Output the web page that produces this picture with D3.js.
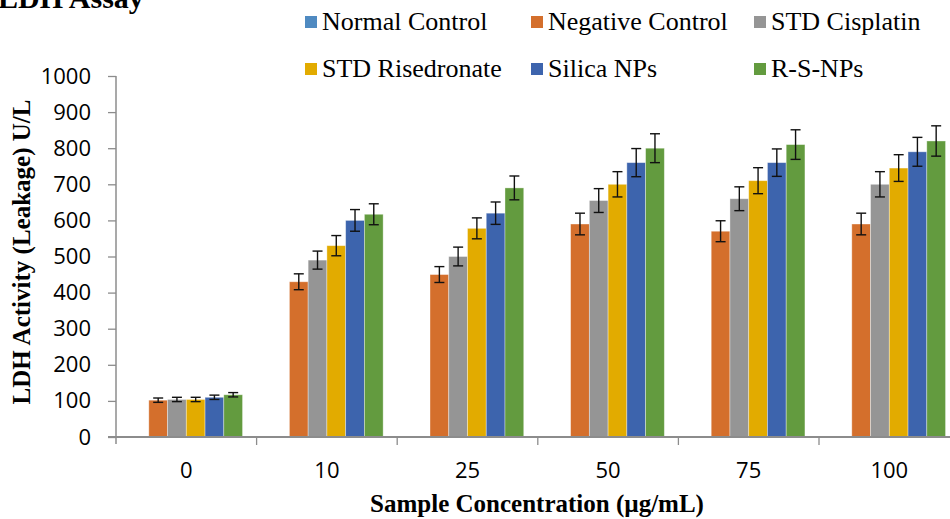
<!DOCTYPE html>
<html>
<head>
<meta charset="utf-8">
<script src="https://cdn.jsdelivr.net/npm/d3@7/dist/d3.min.js"></script>
<style>
  html, body { margin: 0; padding: 0; background: #fff; overflow: hidden; }
  svg { display: block; }
</style>
</head>
<body>
<svg id="chart" width="950" height="519"></svg>
<script>
// ---- data ----
const categories = ["0", "10", "25", "50", "75", "100"];
const seriesNames = ["Normal Control", "Negative Control", "STD Cisplatin", "STD Risedronate", "Silica NPs", "R-S-NPs"];
const normalControl   = [0, 0, 0, 0, 0, 0];
const negativeControl = [102, 430, 450, 590, 570, 590];
const stdCisplatin    = [104, 490, 500, 655, 660, 700];
const stdRisedronate  = [104, 530, 578, 700, 710, 745];
const silicaNPs       = [110, 600, 620, 760, 760, 790];
const rsNPs           = [117, 617, 690, 800, 810, 820];
const errNormal       = [0, 0, 0, 0, 0, 0];
const errNegative     = [6, 22, 22, 30, 29, 30];
const errCisplatin    = [6, 25, 26, 33, 33, 35];
const errRisedronate  = [6, 28, 29, 35, 36, 37];
const errSilica       = [6, 30, 31, 39, 38, 40];
const errRS           = [6, 29, 33, 40, 41, 42];
const yTicks = [0, 100, 200, 300, 400, 500, 600, 700, 800, 900, 1000];
const colors = ["#4F8AC1", "#D46F2C", "#959595", "#E2AB00", "#3D64AD", "#639B3F"];

const values = [normalControl, negativeControl, stdCisplatin, stdRisedronate, silicaNPs, rsNPs];
const errors = [errNormal, errNegative, errCisplatin, errRisedronate, errSilica, errRS];

// ---- layout ----
const svg = d3.select("#chart");
const x0 = d3.scaleBand().domain(categories).range([116, 959.6]).paddingInner(0).paddingOuter(0);
const x1 = d3.scaleBand().domain(seriesNames).range([0, x0.bandwidth()]).paddingInner(0).paddingOuter(0.75);
const y = d3.scaleLinear().domain([0, 1000]).range([437, 76]);
const color = d3.scaleOrdinal().domain(seriesNames).range(colors);

// title (cut off at top, as in the reference)
svg.append("text")
  .attr("x", -2).attr("y", 8)
  .attr("font-family", "Liberation Serif, 'Times New Roman', serif")
  .attr("font-weight", "bold").attr("font-size", 30)
  .attr("fill", "#000")
  .text("LDH Assay");

// bars
const data = [];
categories.forEach((c, ci) => {
  seriesNames.forEach((s, si) => {
    data.push({cat: c, ser: s, v: values[si][ci], e: errors[si][ci]});
  });
});

const gBars = svg.append("g");
gBars.selectAll("rect").data(data.filter(d => d.v > 0)).enter().append("rect")
  .attr("x", d => x0(d.cat) + x1(d.ser))
  .attr("y", d => y(d.v))
  .attr("width", x1.bandwidth())
  .attr("height", d => y(0) - y(d.v))
  .attr("fill", d => color(d.ser))
  .attr("stroke", "rgba(255,255,255,0.45)")
  .attr("stroke-width", 0.8);

// error bars
const gErr = svg.append("g").attr("stroke", "#111").attr("stroke-width", 1.4);
data.filter(d => d.v > 0).forEach(d => {
  const cx = x0(d.cat) + x1(d.ser) + x1.bandwidth() / 2;
  const yt = y(d.v + d.e), yb = y(d.v - d.e);
  gErr.append("line").attr("x1", cx).attr("x2", cx).attr("y1", yt).attr("y2", yb);
  gErr.append("line").attr("x1", cx - 5).attr("x2", cx + 5).attr("y1", yt).attr("y2", yt);
  gErr.append("line").attr("x1", cx - 5).attr("x2", cx + 5).attr("y1", yb).attr("y2", yb);
});

// y axis
const yAxis = d3.axisLeft(y).tickValues(yTicks).tickFormat(d3.format("d")).tickSize(8).tickPadding(17);
const gy = svg.append("g").attr("transform", "translate(116,0)").call(yAxis);
gy.select(".domain").attr("stroke", "#8c8c8c").attr("stroke-width", 1.5).attr("d", "M0,76V444");
gy.selectAll(".tick line").attr("stroke", "#8c8c8c").attr("stroke-width", 1.3);
gy.selectAll(".tick text")
  .attr("font-family", "'Open Sans', sans-serif").attr("font-size", 22).attr("fill", "#000");

// x axis
const gx = svg.append("g").attr("transform", "translate(0,437)");
gx.append("line").attr("x1", 108).attr("x2", 950).attr("y1", 0).attr("y2", 0)
  .attr("stroke", "#8c8c8c").attr("stroke-width", 2);
categories.slice(1).forEach(c => {
  gx.append("line").attr("x1", x0(c)).attr("x2", x0(c)).attr("y1", 0).attr("y2", 8)
    .attr("stroke", "#8c8c8c").attr("stroke-width", 1.3);
});
gx.selectAll("text.cat").data(categories).enter().append("text")
  .attr("class", "cat")
  .attr("x", d => x0(d) + x0.bandwidth() / 2)
  .attr("y", 41)
  .attr("text-anchor", "middle")
  .attr("font-family", "'Open Sans', sans-serif").attr("font-size", 22).attr("fill", "#000")
  .text(d => d);

// axis titles
svg.append("text")
  .attr("x", 537).attr("y", 512)
  .attr("text-anchor", "middle")
  .attr("font-family", "Liberation Serif, 'Times New Roman', serif")
  .attr("font-weight", "bold").attr("font-size", 25).attr("fill", "#000")
  .text("Sample Concentration (µg/mL)");

svg.append("text")
  .attr("transform", "translate(30,252) rotate(-90)")
  .attr("text-anchor", "middle")
  .attr("font-family", "Liberation Serif, 'Times New Roman', serif")
  .attr("font-weight", "bold").attr("font-size", 25).attr("fill", "#000")
  .text("LDH Activity (Leakage) U/L");

// legend
const legendX = [305, 531, 754];
const legendY = [30, 77];
const gLeg = svg.append("g");
seriesNames.forEach((s, i) => {
  const col = i % 3, row = Math.floor(i / 3);
  const lx = legendX[col], ly = legendY[row];
  gLeg.append("rect").attr("x", lx).attr("y", ly - 14).attr("width", 12).attr("height", 12)
    .attr("fill", color(s));
  gLeg.append("text").attr("x", lx + 17).attr("y", ly)
    .attr("font-family", "Liberation Serif, 'Times New Roman', serif")
    .attr("font-size", 26).attr("fill", "#000")
    .text(s);
});
</script>
</body>
</html>
